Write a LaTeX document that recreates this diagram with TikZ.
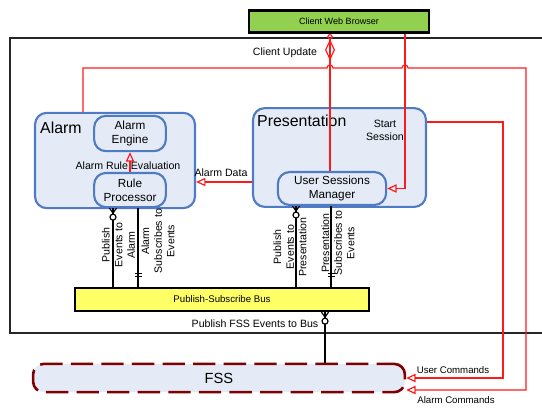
\documentclass[tikz,border=0pt]{standalone}
\usepackage{fontspec}
\setmainfont{Liberation Sans}
\usetikzlibrary{arrows.meta,calc}

\definecolor{boxblue}{HTML}{4F7BC4}
\definecolor{boxfill}{HTML}{E4EBF6}
\definecolor{linkred}{HTML}{FF1A1A}
\definecolor{webgreen}{HTML}{92D050}
\definecolor{busyellow}{HTML}{FFFF66}
\definecolor{fssred}{HTML}{7F0000}

% zero-or-many foot, going down from #1
\newcommand{\zeromany}[1]{%
  \draw[link] ($(#1)+(-3.5,0)$) -- ($(#1)+(0,5)$) -- ($(#1)+(3.5,0)$);
  \draw[link, fill=white] ($(#1)+(0,9)$) circle (3);
}
% one-and-only-one bars, just above #1
\newcommand{\onlyone}[1]{%
  \draw[link] ($(#1)+(-3.5,-10)$) -- ($(#1)+(3.5,-10)$);
  \draw[link] ($(#1)+(-3.5,-13)$) -- ($(#1)+(3.5,-13)$);
}

\begin{document}
\begin{tikzpicture}[x=0.85pt, y=-0.85pt,
  block/.style={draw=boxblue, line width=1.8pt, fill=boxfill, rounded corners=10pt},
  part/.style={block, align=center, font=\fontsize{10}{12}\selectfont},
  title/.style={font=\fontsize{13.5}{15}\selectfont, inner sep=0pt},
  lbl/.style={font=\fontsize{9}{10.8}\selectfont, inner sep=0pt, align=center},
  small/.style={font=\fontsize{8.2}{10}\selectfont, inner sep=0pt},
  vlbl/.style={lbl, rotate=90},
  flow/.style={draw=linkred, line width=1pt, -{Triangle[open, length=8pt, width=7pt]}},
  link/.style={draw=black, line width=1pt}]
\useasboundingbox (0,0) rectangle (542,408);

% system boundary
\draw[line width=1pt, black!85] (560,38) -- (10,38) -- (10,333) -- (560,333);

% columns and turning points
\coordinate (cu) at (330,0);
\coordinate (ss) at (405,0);
\coordinate (pa) at (113,0);
\coordinate (as) at (138,0);
\coordinate (pp) at (296,0);
\coordinate (ps) at (331,0);
\coordinate (fb) at (325,0);
\coordinate (ad) at (0,182);
\coordinate (ac-1) at (83,68);
\coordinate (ac-2) at (526,68);
\coordinate (ac-3) at (526,390);
\coordinate (uc-1) at (503,122);
\coordinate (uc-2) at (503,378);

\node[draw=black, line width=2.3pt, fill=webgreen, minimum width=153pt, minimum height=19pt,
  font=\fontsize{7.7}{9}\selectfont] (cwb) at (339,21.5) {Client Web Browser};

\node[block, minimum width=136pt, minimum height=81pt] (alarm) at (115,160.5) {};
\node[title, anchor=base west] (alarm-t) at (40,133) {Alarm};
\node[part, minimum width=61pt, minimum height=30pt] (ae) at (130,133.5) {Alarm\\Engine};
\node[part, minimum width=61pt, minimum height=29pt] (rp) at (130,190) {Rule\\Processor};

\node[block, minimum width=147pt, minimum height=84pt] (pres) at (339.5,157.5) {};
\node[title, anchor=base west] (pres-t) at (257,126) {Presentation};
\node[part, minimum width=92pt, minimum height=28pt] (usm) at (332,188.5) {User Sessions\\Manager};

\node[draw=black, line width=2pt, fill=busyellow, minimum width=250pt, minimum height=19.5pt,
  font=\fontsize{8.2}{10}\selectfont] (bus) at (222,299.5) {Publish-Subscribe Bus};

\node[draw=fssred, line width=2.2pt, dash pattern=on 19pt off 7pt, dash phase=4pt, fill=boxfill,
  rounded corners=9pt, minimum width=316pt, minimum height=24pt,
  font=\fontsize{12.5}{15}\selectfont] (fss) at (219,378) {FSS};

% red flows
\draw[flow] (rp.north) -- (ae.south);
\draw[flow] (pres.west |- ad) -- (alarm.east |- ad);
\draw[flow] (cwb.south -| ss) |- (usm.east);
\draw[draw=linkred, line width=1pt,
  {Circle[open, length=4.5pt, width=4.5pt] Diamond[open, length=18pt, width=8.5pt]}-]
  (cwb.south -| cu) -- (usm.north -| cu);
\draw[flow] (alarm.north -| ac-1) -- (ac-1)
  -- ($(cu |- ac-1)+(-3,0)$) arc(180:360:3)
  -- ($(ss |- ac-1)+(-3,0)$) arc(180:360:3)
  -- (ac-2) -- (ac-3) -- (fss.east |- ac-3);
\draw[flow] (pres.east |- uc-1) -- (uc-1) -- (uc-2) -- (fss.east |- uc-2);

% bus links
\draw[link] (rp.south -| pa) -- (bus.north -| pa);
\zeromany{rp.south -| pa}
\draw[link] (rp.south -| as) -- (bus.north -| as);
\onlyone{bus.north -| as}
\draw[link] (usm.south -| pp) -- (bus.north -| pp);
\zeromany{usm.south -| pp}
\draw[link] (usm.south -| ps) -- (bus.north -| ps);
\onlyone{bus.north -| ps}
\draw[link] (bus.south -| fb) -- (fss.north -| fb);
\zeromany{bus.south -| fb}

% labels
\node[lbl] (client-update) at (285,53) {Client Update};
\node[lbl] (start-session) at (385,130) {Start\\Session};
\node[lbl] (alarm-data) at (221,173) {Alarm Data};
\node[lbl] (rule-eval) at (128,166) {Alarm Rule Evaluation};
\node[vlbl] (pub-alarm) at (118.5,245) {Publish\\Events to\\Alarm};
\node[vlbl] (sub-alarm) at (158,241) {Alarm\\Subscribes to\\Events};
\node[vlbl] (pub-pres) at (290,247) {Publish\\Events to\\Presentation};
\node[vlbl] (sub-pres) at (338,243) {Presentation\\Subscribes to\\Events};
\node[lbl] (pub-fss) at (255,324) {Publish FSS Events to Bus};
\node[small] (user-cmd) at (453,370) {User Commands};
\node[small] (alarm-cmd) at (456,400) {Alarm Commands};
\end{tikzpicture}
\end{document}
